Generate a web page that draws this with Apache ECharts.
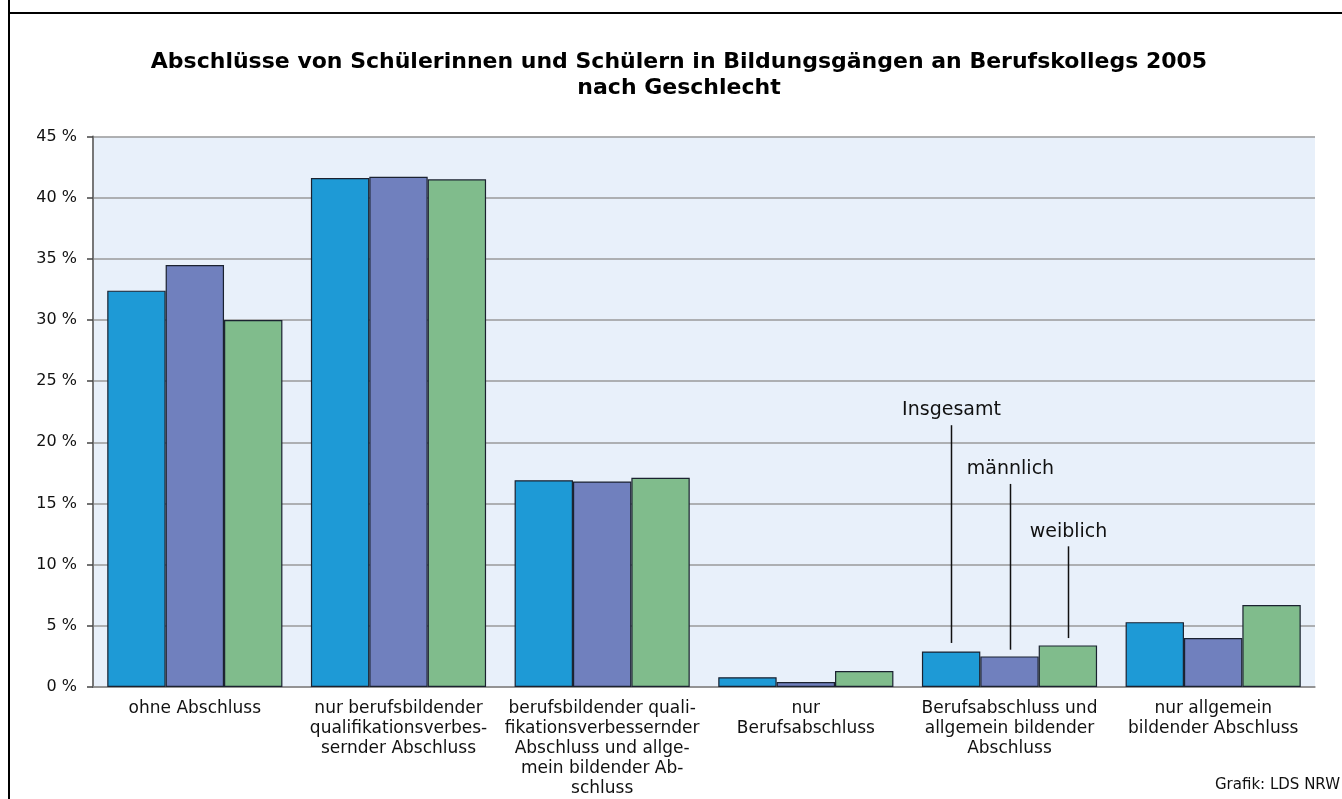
<!DOCTYPE html>
<html>
<head>
<meta charset="utf-8">
<script src="https://cdn.jsdelivr.net/npm/echarts@6/dist/echarts.min.js"></script>
<style>
html,body{margin:0;padding:0;background:#fff;}
#chart{width:1342px;height:799px;}
</style>
</head>
<body>
<div id="chart"></div>
<script>
const categories = [
  'ohne Abschluss',
  'nur berufsbildender\nqualifikationsverbes-\nsernder Abschluss',
  'berufsbildender quali-\nfikationsverbessernder\nAbschluss und allge-\nmein bildender Ab-\nschluss',
  'nur\nBerufsabschluss',
  'Berufsabschluss und\nallgemein bildender\nAbschluss',
  'nur allgemein\nbildender Abschluss'
];
const seriesNames = ['Insgesamt', 'männlich', 'weiblich'];
const insgesamt = [32.4, 41.6, 16.9, 0.8, 2.9, 5.3];
const maennlich = [34.5, 41.7, 16.8, 0.4, 2.5, 4.0];
const weiblich  = [30.0, 41.5, 17.1, 1.3, 3.4, 6.7];
const yTicks = { min: 0, max: 45, interval: 5 };
// annotation leader lines: [label, labelValue, lineTopValue, lineBottomValue]
const annotations = [
  ['Insgesamt', 22.6, 21.4, 3.6],
  ['männlich', 17.8, 16.6, 3.05],
  ['weiblich', 12.7, 11.5, 4.0]
];
const annotCategory = 4;

const colors = ['#1e9ad6', '#7080be', '#80bc8c'];
const font = '"DejaVu Sans", Verdana, sans-serif';
const catGap = 0.14;

const chart = echarts.init(document.getElementById('chart'));
const data = [insgesamt, maennlich, weiblich];

const option = {
  animation: false,
  backgroundColor: '#ffffff',
  textStyle: { fontFamily: font },
  grid: { left: 93, right: 27, top: 136.5, bottom: 111.5, show: true, backgroundColor: '#e8f0fa', borderWidth: 0 },
  xAxis: {
    type: 'category',
    data: categories,
    axisLine: { show: true, lineStyle: { color: '#8a8a8a', width: 1.5 } },
    axisTick: { show: false },
    axisLabel: { interval: 0, color: '#111', fontSize: 17, lineHeight: 20, margin: 12, fontFamily: font }
  },
  yAxis: {
    type: 'value',
    min: yTicks.min, max: yTicks.max, interval: yTicks.interval,
    axisLine: { show: true, lineStyle: { color: '#777', width: 2 } },
    axisTick: { show: true, length: 6, lineStyle: { color: '#444', width: 1.5 } },
    axisLabel: { formatter: '{value} %', color: '#111', fontSize: 16, margin: 16, fontFamily: font },
    splitLine: { show: true, lineStyle: { color: '#9a9a9a', width: 1.5 } }
  },
  series: seriesNames.map((n, i) => ({
    name: n,
    type: 'bar',
    data: data[i],
    barGap: '0%',
    barCategoryGap: (catGap * 100) + '%',
    itemStyle: { color: colors[i], borderColor: '#1b2230', borderWidth: 1.2 }
  })),
  graphic: [
    { type: 'line', shape: { x1: 9, y1: 0, x2: 9, y2: 799 }, style: { stroke: '#000', lineWidth: 2 }, z: 100 },
    { type: 'line', shape: { x1: 8, y1: 13, x2: 1342, y2: 13 }, style: { stroke: '#000', lineWidth: 2 }, z: 100 },
    { type: 'text', x: 679, y: 62, style: { text: 'Abschlüsse von Schülerinnen und Schülern in Bildungsgängen an Berufskollegs 2005', align: 'center', verticalAlign: 'middle', font: 'bold 22px ' + font, fill: '#000' } },
    { type: 'text', x: 679, y: 88, style: { text: 'nach Geschlecht', align: 'center', verticalAlign: 'middle', font: 'bold 22px ' + font, fill: '#000' } },
    { type: 'text', x: 1340, y: 785, style: { text: 'Grafik: LDS NRW', align: 'right', verticalAlign: 'middle', font: '15px ' + font, fill: '#111' } }
  ]
};
chart.setOption(option);

// annotation leader lines, positioned via axis scales
const p0 = chart.convertToPixel({ xAxisIndex: 0 }, 0);
const p1 = chart.convertToPixel({ xAxisIndex: 0 }, 1);
const band = p1 - p0;
const bw = band * (1 - catGap) / 3;
const cx = chart.convertToPixel({ xAxisIndex: 0 }, annotCategory);
const extra = [];
annotations.forEach((a, i) => {
  const x = Math.round(cx + (i - 1) * bw) + 0.5;
  const yl = chart.convertToPixel({ yAxisIndex: 0 }, a[1]);
  const yt = chart.convertToPixel({ yAxisIndex: 0 }, a[2]);
  const yb = chart.convertToPixel({ yAxisIndex: 0 }, a[3]);
  extra.push({ type: 'line', shape: { x1: x, y1: yt, x2: x, y2: yb }, style: { stroke: '#111', lineWidth: 1.5 }, z: 50 });
  extra.push({ type: 'text', x: x, y: yl, style: { text: a[0], font: '19px ' + font, fill: '#111', align: 'center', verticalAlign: 'middle' }, z: 50 });
});
chart.setOption({ graphic: option.graphic.concat(extra) });
</script>
</body>
</html>
